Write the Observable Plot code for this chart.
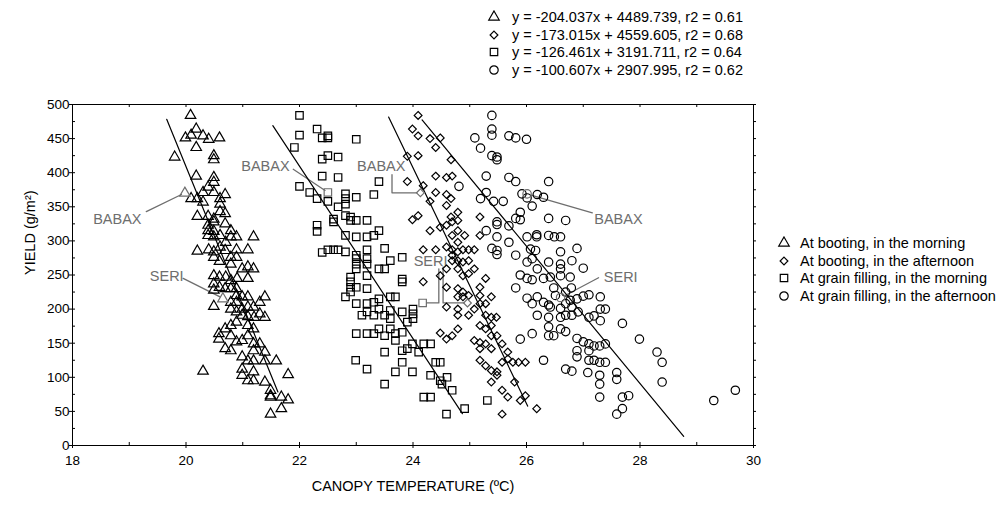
<!DOCTYPE html>
<html><head><meta charset="utf-8">
<script src="https://cdn.jsdelivr.net/npm/d3@7"></script>
<script src="https://cdn.jsdelivr.net/npm/@observablehq/plot@0.6"></script>
<style>
html,body{margin:0;padding:0;background:#fff;}
#wrap{position:relative;width:1008px;height:506px;font-family:"Liberation Sans",Arial,sans-serif;overflow:hidden;}
#wrap > svg{position:absolute;left:0;top:0;}
.leg{position:absolute;font-size:14.5px;color:#000;}
.leg .row{display:flex;align-items:center;height:17.5px;white-space:nowrap;}
.leg .row svg{display:block;flex:none;}
</style></head>
<body><div id="wrap"></div>
<script>
// ---- series (canopy temperature ºC, yield g/m2) ----
const seriesNames = ["At booting, in the morning","At booting, in the afternoon","At grain filling, in the morning","At grain filling, in the afternoon"];
const seriesSymbols = ["triangle","diamond2","square","circle"];
const seriesR = [3.9,3.5,4.2,4.2];
const slopes = [-204.037,-173.015,-126.461,-100.607];
const intercepts = [4489.739,4559.605,3191.711,2907.995];
const r2s = [0.61,0.68,0.64,0.62];
const fitStart = [19.66,23.57,21.53,24.16];
const fitEnd = [21.62,26.02,24.87,28.77];

const bootingMorning = [[20.08,484],[20.18,464],[19.99,451],[20.09,455],[20.30,454],[20.40,449],[20.59,451],[20.18,437],[19.80,423],[20.49,425],[20.49,419],[20.18,395],[20.49,393],[20.49,386],[20.39,379],[20.09,362],[20.20,362],[20.30,371],[20.30,357],[20.49,371],[20.69,368],[20.60,362],[20.60,354],[20.20,336],[20.39,336],[20.49,332],[20.39,323],[20.49,328],[20.60,343],[20.69,340],[20.69,325],[20.39,315],[20.49,314],[20.39,308],[20.49,306],[20.60,308],[20.79,315],[20.79,306],[20.89,306],[21.19,306],[20.70,298],[20.20,285],[20.40,287],[20.49,284],[20.60,291],[20.69,286],[20.89,287],[21.09,287],[20.49,276],[20.59,270],[20.79,276],[20.89,276],[20.79,266],[20.99,259],[21.09,262],[21.19,259],[20.49,249],[20.59,247],[20.70,247],[20.79,242],[20.90,245],[21.09,245],[20.49,237],[20.59,232],[20.69,230],[20.79,230],[20.89,230],[20.49,228],[20.89,220],[20.99,218],[21.09,218],[20.79,210],[20.89,210],[21.09,203],[21.19,203],[21.30,210],[21.39,218],[20.49,204],[20.99,191],[21.09,189],[21.20,188],[21.30,193],[21.39,188],[20.79,200],[20.89,196],[20.99,200],[20.69,171],[20.79,176],[20.89,181],[21.09,176],[21.19,171],[20.58,164],[20.58,156],[20.79,161],[20.89,152],[20.99,154],[21.09,161],[21.19,149],[21.30,149],[21.19,139],[20.69,142],[20.79,139],[21.39,137],[20.99,130],[21.09,124],[21.19,124],[21.39,124],[21.59,124],[20.30,109],[20.99,112],[20.99,103],[21.09,95],[21.19,108],[21.19,95],[21.39,93],[21.80,104],[21.49,81],[21.49,73],[21.49,71],[21.68,71],[21.80,67],[21.68,54],[21.49,46]];

const bootingAfternoon = [[24.09,484],[23.99,464],[24.09,454],[24.30,450],[24.48,451],[24.40,437],[24.09,425],[23.90,424],[24.67,419],[23.90,387],[24.18,381],[24.40,395],[24.59,393],[24.69,395],[24.30,358],[24.40,371],[24.59,368],[24.67,362],[24.59,352],[24.79,342],[24.67,335],[23.99,331],[24.09,337],[24.48,320],[24.30,315],[24.59,323],[24.69,328],[24.79,330],[24.91,308],[24.79,315],[24.69,308],[25.18,335],[25.18,308],[24.18,287],[24.40,287],[24.59,291],[24.69,287],[24.79,298],[24.69,279],[24.79,284],[24.88,287],[24.98,287],[25.08,287],[24.69,271],[24.79,271],[24.88,269],[24.98,271],[25.08,259],[24.79,259],[24.59,259],[24.88,249],[24.98,252],[25.28,245],[24.48,249],[24.18,240],[24.59,232],[24.79,230],[24.88,225],[24.98,220],[25.18,232],[24.59,203],[24.79,218],[24.88,218],[24.79,200],[25.18,220],[25.38,218],[25.18,208],[25.08,200],[25.28,208],[24.79,191],[24.98,191],[25.28,191],[25.38,188],[25.47,188],[25.48,161],[25.18,176],[25.28,171],[25.38,176],[25.38,161],[24.48,165],[24.59,156],[24.69,161],[24.79,171],[25.08,154],[25.18,151],[25.18,142],[25.28,149],[25.38,142],[25.57,149],[25.67,137],[25.67,127],[25.18,125],[25.28,117],[25.38,110],[25.48,108],[25.57,122],[25.76,122],[25.86,122],[25.98,122],[25.48,103],[25.38,93],[25.57,81],[25.67,71],[25.79,93],[25.98,73],[25.89,66],[26.18,54],[25.57,46]];

const grainMorning = [[22.00,484],[22.00,455],[22.31,464],[22.40,451],[22.50,454],[22.50,451],[23.00,449],[21.91,437],[22.50,425],[22.40,420],[22.68,423],[22.40,395],[22.68,393],[22.00,380],[22.18,371],[22.31,362],[22.50,358],[22.81,369],[22.81,362],[22.81,354],[23.00,364],[22.68,350],[22.60,332],[22.60,328],[22.31,323],[22.31,314],[22.81,337],[22.90,335],[22.90,330],[23.00,330],[23.19,330],[22.81,308],[23.00,306],[23.19,306],[22.40,283],[22.50,287],[22.60,287],[22.68,287],[22.81,284],[23.00,279],[23.00,274],[23.19,287],[23.19,274],[23.00,266],[23.19,266],[23.19,249],[23.00,259],[22.90,247],[22.90,240],[22.90,232],[22.90,225],[22.81,218],[23.00,232],[23.19,230],[23.00,208],[23.19,208],[23.19,196],[23.10,191],[23.00,164],[23.19,164],[22.99,125],[23.19,112],[23.40,387],[23.31,368],[23.40,315],[23.31,308],[23.50,289],[23.81,276],[23.60,271],[23.50,259],[23.40,259],[23.81,244],[23.81,240],[23.69,218],[23.60,218],[23.40,215],[23.31,210],[23.60,198],[23.81,196],[24.00,200],[24.00,193],[24.00,186],[23.40,200],[23.50,191],[23.31,191],[23.60,186],[23.90,181],[23.40,171],[23.60,171],[23.69,164],[23.81,166],[23.31,164],[23.50,161],[23.69,154],[23.99,149],[24.19,149],[24.31,149],[23.81,139],[23.90,142],[23.50,137],[24.10,137],[23.81,122],[23.99,108],[23.69,108],[23.50,90],[24.40,122],[24.48,122],[24.31,103],[24.60,100],[24.48,95],[24.51,90],[24.69,81],[24.19,71],[24.31,71],[24.59,46],[24.91,54],[25.31,66]];

const grainAfternoon = [[25.09,451],[24.81,380],[25.19,436],[25.19,362],[25.39,484],[25.39,464],[25.39,455],[25.69,454],[25.81,451],[26.00,449],[25.39,425],[25.48,423],[25.48,419],[25.29,395],[25.69,393],[25.81,387],[26.39,387],[25.29,371],[25.42,358],[25.59,358],[25.92,369],[26.01,363],[26.19,368],[26.30,364],[26.10,351],[25.81,333],[25.89,342],[25.89,331],[25.48,328],[25.48,324],[25.69,322],[25.29,315],[25.48,306],[25.69,298],[26.01,306],[26.18,309],[26.18,306],[26.39,308],[26.49,306],[26.60,306],[26.39,333],[26.69,330],[25.39,289],[25.48,286],[25.48,280],[25.81,279],[26.01,269],[26.10,274],[26.07,288],[26.16,286],[26.39,269],[26.60,266],[26.60,259],[26.19,259],[26.60,284],[26.80,271],[26.89,289],[27.00,260],[25.89,250],[26.01,245],[26.10,243],[26.30,245],[26.42,247],[26.60,249],[26.77,247],[25.81,231],[26.01,216],[26.10,208],[26.19,218],[26.30,210],[26.39,206],[26.48,231],[26.51,220],[26.69,225],[26.79,231],[26.69,208],[26.77,213],[26.89,215],[27.00,219],[27.10,221],[27.30,218],[26.42,203],[26.60,201],[26.80,203],[26.91,196],[27.30,200],[27.39,200],[26.19,191],[26.39,188],[26.60,188],[26.69,191],[26.80,191],[27.10,188],[27.19,190],[27.30,183],[27.69,179],[26.39,174],[26.39,161],[26.48,161],[26.60,171],[26.10,164],[25.89,156],[26.69,167],[26.89,157],[27.00,152],[27.10,149],[27.10,139],[27.19,146],[27.29,146],[27.39,149],[26.89,139],[26.89,130],[27.10,125],[26.30,125],[27.19,125],[27.29,122],[27.39,122],[27.29,103],[27.29,90],[27.59,107],[27.59,97],[27.99,156],[28.30,137],[28.39,122],[28.39,93],[26.69,112],[26.80,109],[27.08,107],[27.29,71],[27.69,71],[27.80,73],[27.69,54],[27.59,46],[29.30,66],[29.68,81]];

// highlighted genotypes (same series order)
const babaxCT = [19.98,24.13,22.50,26.01];
const babaxYield = [370,370.5,371,369];
const seriCT = [20.65,24.96,24.17,26.60];
const seriYield = [215,209,209,217];

// annotation labels and leader lines
const annoLabel = ["BABAX","SERI","BABAX","BABAX","SERI","BABAX","SERI"];
const annoCT = [18.79,19.66,21.40,23.44,24.31,27.62,27.66];
const annoYield = [331,248,409,409,270,331,246];
const leaders = [
  [[19.30,343],[19.92,368]],
  [[19.95,245],[20.60,218]],
  [[21.89,405],[22.45,374]],
  [[23.63,397],[23.63,370.5],[24.07,370.5]],
  [[24.455,259],[24.455,209],[24.24,209]],
  [[24.53,262],[24.53,209],[24.90,209]],
  [[27.16,341],[26.08,367]],
  [[27.27,246],[26.68,220]]
];

// axes
const xMajor = [18,20,22,24,26,28,30];
const xMinor = [19,21,23,25,27,29];
const xAll = d3.range(18,30.5,1);
const yMajor = d3.range(0,501,50);
const yMinor = d3.range(25,500,50);
const yAll = d3.range(0,501,25);
const TX = 0.053, TY = 4.4; // ~3px tick lengths in data units

// ---- build tables ----
const seriesData = [bootingMorning,bootingAfternoon,grainMorning,grainAfternoon];
const fitLines = [];
seriesNames.forEach((n,i)=>{
  [fitStart[i],fitEnd[i]].forEach(x=>fitLines.push({s:i,x,y:slopes[i]*x+intercepts[i]}));
});
const leaderRows = [];
leaders.forEach((L,i)=>L.forEach(([x,y])=>leaderRows.push({g:i,x,y})));
const annos = annoLabel.map((t,i)=>({t,x:annoCT[i],y:annoYield[i]}));

const GRAY = "#6e6e6e";
const font = "'Liberation Sans', Arial, sans-serif";

const marks = [
  Plot.line(leaderRows,{x:"x",y:"y",z:"g",stroke:GRAY,strokeWidth:1.3}),
  Plot.text(annos,{x:"x",y:"y",text:"t",fill:GRAY,fontSize:14.5,textAnchor:"middle"}),
  Plot.line(fitLines,{x:"x",y:"y",z:"s",stroke:"black",strokeWidth:1.2}),
];
seriesData.forEach((arr,i)=>{
  marks.push(Plot.dot(arr,{x:d=>d[0],y:d=>d[1],symbol:seriesSymbols[i],r:seriesR[i],stroke:"black",strokeWidth:1.2,fill:"none"}));
  marks.push(Plot.dot([[babaxCT[i],babaxYield[i]],[seriCT[i],seriYield[i]]],{x:d=>d[0],y:d=>d[1],symbol:seriesSymbols[i],r:seriesR[i],stroke:GRAY,strokeWidth:1.2,fill:"none"}));
});
marks.push(
  Plot.frame({stroke:"black",strokeWidth:1}),
  Plot.ruleX(xMajor,{y1:-TY,y2:TY,stroke:"black"}),
  Plot.ruleX(xMinor,{y1:0,y2:TY,stroke:"black"}),
  Plot.ruleX(xAll,{y1:500,y2:500-TY,stroke:"black"}),
  Plot.ruleY(yMajor,{x1:18-TX,x2:18+TX,stroke:"black"}),
  Plot.ruleY(yMinor,{x1:18,x2:18+TX,stroke:"black"}),
  Plot.ruleY(yAll,{x1:30,x2:30+TX,stroke:"black"}),
  Plot.axisX({ticks:xMajor,tickSize:0,tickPadding:10,fontSize:13.5,label:null,tickFormat:d=>String(d)}),
  Plot.axisY({ticks:yMajor,tickSize:0,tickPadding:3,fontSize:13.5,label:null,tickFormat:d=>String(d)}),
  Plot.text(["CANOPY TEMPERATURE (ºC)"],{frameAnchor:"bottom",dy:45,fontSize:14.5,fill:"black"}),
  Plot.text(["YIELD (g/m²)"],{frameAnchor:"left",dx:-42,rotate:-90,fontSize:14.5,fill:"black"})
);

const chart = Plot.plot({
  width:1008,height:506,
  marginLeft:72,marginRight:255,marginTop:104,marginBottom:61,
  x:{domain:[18,30]},
  y:{domain:[0,500]},
  style:{fontFamily:font,color:"black",background:"white",overflow:"visible"},
  marks
});
const wrap = document.getElementById("wrap");
wrap.appendChild(chart);

// ---- legends ----
const symMap = {triangle:d3.symbolTriangle,diamond2:d3.symbolDiamond2,square:d3.symbolSquare,circle:d3.symbolCircle};
function legend(left, top, labels, gap){
  const box = document.createElement("div");
  box.className = "leg";
  box.style.left = left+"px"; box.style.top = top+"px";
  labels.forEach((lab,i)=>{
    const row = document.createElement("div"); row.className="row";
    const s = d3.create("svg").attr("width",14).attr("height",14).style("margin-right",gap+"px");
    s.append("path").attr("transform","translate(7,7)")
      .attr("d",d3.symbol(symMap[seriesSymbols[i]],Math.PI*seriesR[i]*seriesR[i])())
      .attr("fill","none").attr("stroke","black").attr("stroke-width",1.2);
    row.appendChild(s.node());
    const t = document.createElement("span"); t.textContent = lab; row.appendChild(t);
    box.appendChild(row);
  });
  wrap.appendChild(box);
}
const eqLabels = slopes.map((m,i)=>`y = ${m.toFixed(3)}x + ${intercepts[i].toFixed(3)}, r2 = ${r2s[i].toFixed(2)}`);
legend(487, 8.25, eqLabels, 11);
legend(777, 234.25, seriesNames, 9);
</script></body></html>
